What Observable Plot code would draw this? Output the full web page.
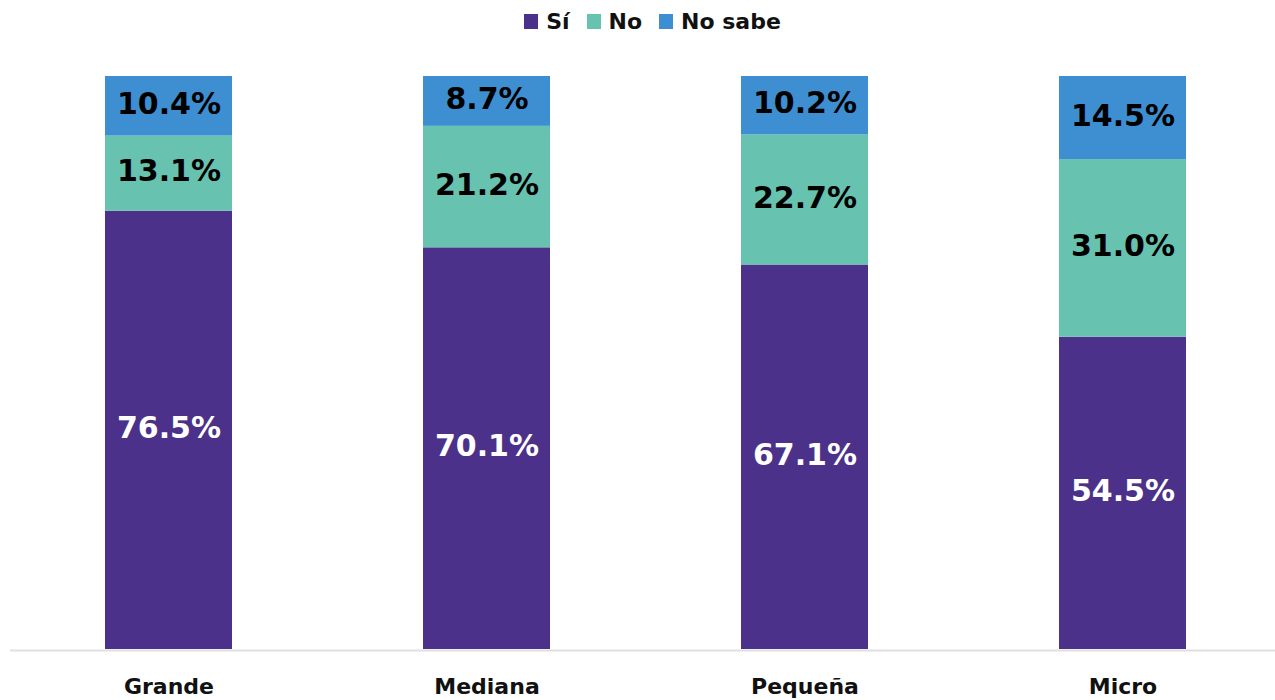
<!DOCTYPE html>
<html>
<head>
<meta charset="utf-8">
<script src="https://cdn.jsdelivr.net/npm/d3@7"></script>
<script src="https://cdn.jsdelivr.net/npm/@observablehq/plot@0.6"></script>
<style>
  html, body { margin: 0; padding: 0; background: #fff; }
  body { width: 1275px; height: 700px; overflow: hidden; font-family: "DejaVu Sans", sans-serif; }
  #legend { height: 42px; display: flex; justify-content: center; align-items: center; gap: 17px; padding-left: 30px; box-sizing: border-box; font-weight: bold; font-size: 22px; color: #111; }
  #legend .item { display: flex; align-items: center; gap: 8px; }
  #legend .sw { width: 14px; height: 15px; display: inline-block; }
  #chart svg { display: block; }
</style>
</head>
<body>
<div id="legend"></div>
<div id="chart"></div>
<script>
const categories = ["Grande", "Mediana", "Pequeña", "Micro"];
const seriesNames = ["Sí", "No", "No sabe"];
const colors = ["#4B3189", "#68C2B0", "#3E8FD1"];
const si = [76.5, 70.1, 67.1, 54.5];
const no = [13.1, 21.2, 22.7, 31.0];
const noSabe = [10.4, 8.7, 10.2, 14.5];

const seriesValues = [si, no, noSabe];
const data = [];
seriesNames.forEach((s, i) => {
  categories.forEach((c, j) => {
    data.push({ cat: c, serie: s, value: seriesValues[i][j] });
  });
});

const legend = document.getElementById("legend");
seriesNames.forEach((s, i) => {
  const it = document.createElement("div");
  it.className = "item";
  it.innerHTML = `<span class="sw" style="background:${colors[i]}"></span><span>${s}</span>`;
  legend.appendChild(it);
});

const fmt = d => d.toFixed(1) + "%";

const chart = Plot.plot({
  width: 1275,
  height: 658,
  marginTop: 34,
  marginBottom: 51,
  marginLeft: 10,
  marginRight: 0,
  style: { fontFamily: "DejaVu Sans, sans-serif", background: "#fff" },
  x: { domain: categories, range: [10, 1282], paddingInner: 0.6, paddingOuter: 0.3, label: null },
  y: { domain: [0, 100], axis: null },
  color: { domain: seriesNames, range: colors },
  marks: [
    Plot.barY(data, Plot.stackY({ x: "cat", y: "value", z: "serie", fill: "serie", order: seriesNames })),
    Plot.text(data, Plot.stackY({
      x: "cat", y: "value", z: "serie", order: seriesNames,
      text: d => fmt(d.value),
      fill: d => d.serie === "Sí" ? "#ffffff" : "#000000",
      fontSize: 30, fontWeight: "bold", dy: -2
    })),
    Plot.ruleY([0], { stroke: "#e0e0e0", strokeWidth: 2, dy: 1 }),
    Plot.axisX({ tickSize: 0, tickPadding: 29, fontSize: 22, fontWeight: "bold", fill: "#111", label: null })
  ]
});
document.getElementById("chart").appendChild(chart);
</script>
</body>
</html>
